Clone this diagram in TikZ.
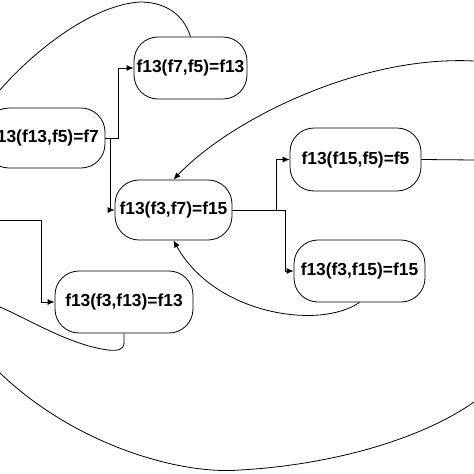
\documentclass[tikz,border=0pt]{standalone}
\usepackage{fontspec}
\setmainfont{Liberation Sans}
\usetikzlibrary{arrows.meta,calc}
\tikzset{
  fbox/.style={draw, line width=0.8pt, rounded corners=24pt, inner sep=0pt,
    minimum height=62pt, font=\fontsize{17.4}{20}\selectfont\bfseries},
  conn/.style={line width=0.8pt},
  arr/.style={conn, -{Latex[length=7pt,width=6pt]}}
}
\begin{document}
\begin{tikzpicture}[x=1pt,y=-1pt]
\useasboundingbox (0,0) rectangle (474,474);
\node[fbox, minimum width=113pt] (n1) at (190.5,68) {f13(f7,f5)=f13};
\node[fbox, minimum width=120pt, minimum height=60pt] (n2) at (45,138) {f13(f13,f5)=f7};
\node[fbox, minimum width=117pt, minimum height=60pt] (n3) at (173.5,210) {f13(f3,f7)=f15};
\node[fbox, minimum width=131pt, minimum height=63pt] (n4) at (355.5,159.5) {f13(f15,f5)=f5};
\node[fbox, minimum width=131pt] (n5) at (359.5,271) {f13(f3,f15)=f15};
\node[fbox, minimum width=138pt] (n6) at (124,302) {f13(f3,f13)=f13};

\coordinate (a0) at (474,61);
\coordinate (c0) at (0,90);
\coordinate (d0) at (0,220);
\coordinate (e0) at (0,307);
\coordinate (f0) at (0,373);
\coordinate (f1) at (474,402);
\coordinate (g0) at (474,160);

% orthogonal connectors
\draw[arr] (n2.east) -- ++(13,0) |- (n1.west);
\draw[arr] (n2.east) -- ++(5,0) |- (n3.west);
\draw[arr] (n3.east) -- ++(44,0) |- (n4.west);
\draw[arr] (n3.east) -- ++(53,0) |- (n5.west);
\draw[conn] (n4.east) -- (g0);
\draw[arr] (d0) -- ++(41,0) |- (n6.west);

% curves
\draw[arr] (a0) .. controls (360,55) and (230,120) .. (n3.north);
\draw[arr] (n5.south) .. controls (320,330) and (215,315) .. (n3.south);
\draw[conn] (n1.north) .. controls (182,10) and (160,2) .. (140,2)
  .. controls (90,5) and (30,55) .. (c0);
\draw[conn] (n6.south) -- ++(0,9) .. controls (124,350) and (118,351) .. (108,350)
  .. controls (70,345) and (30,320) .. (e0);
\draw[conn] (f0) .. controls (75,445) and (180,475) .. (240,470)
  .. controls (330,465) and (420,440) .. (f1);
\end{tikzpicture}
\end{document}
